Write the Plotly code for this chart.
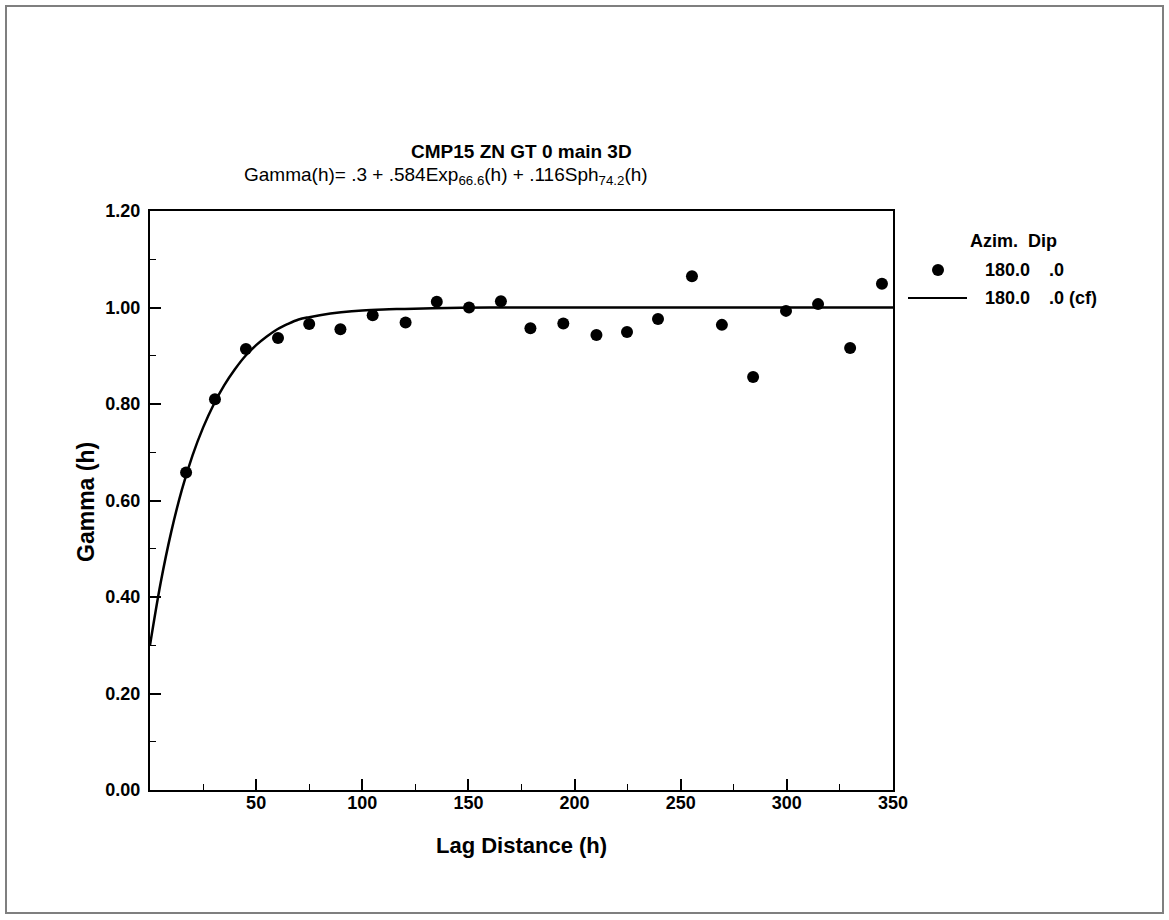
import plotly.graph_objects as go

lag = [17.0, 30.6, 45.2, 60.3, 75.0, 89.7, 104.9, 120.4, 135.1, 150.3, 165.3, 179.2,
       194.7, 210.3, 224.7, 239.3, 255.3, 269.4, 284.1, 299.6, 314.7, 329.8, 344.8]
gamma = [0.658, 0.810, 0.914, 0.937, 0.966, 0.955, 0.984, 0.969, 1.012, 1.000, 1.013, 0.957,
         0.967, 0.943, 0.949, 0.976, 1.065, 0.964, 0.856, 0.993, 1.007, 0.916, 1.049]

# Fitted model curve
h_fit = [0, 5, 10, 15, 20, 25, 30, 35, 40, 45, 50, 55, 60, 65, 70, 75, 80, 90, 100,
         110, 120, 140, 160, 200, 250, 350]
gamma_fit = [0.300, 0.429, 0.535, 0.622, 0.693, 0.751, 0.799, 0.839, 0.872, 0.900, 0.922,
             0.940, 0.955, 0.966, 0.975, 0.980, 0.984, 0.990, 0.994, 0.996, 0.997, 0.999,
             1.000, 1.000, 1.000, 1.000]

x_ticks = [50, 100, 150, 200, 250, 300, 350]
x_minor = [25, 75, 125, 175, 225, 275, 325]
y_ticks = [0.0, 0.2, 0.4, 0.6, 0.8, 1.0, 1.2]
y_minor = [0.1, 0.3, 0.5, 0.7, 0.9, 1.1]

FONT = "Arial, 'Liberation Sans', sans-serif"

fig = go.Figure()
fig.add_trace(go.Scatter(x=h_fit, y=gamma_fit, mode="lines",
                         line=dict(color="black", width=2.5, shape="spline"),
                         showlegend=False))
fig.add_trace(go.Scatter(x=lag, y=gamma, mode="markers", marker=dict(color="black", size=12),
                         showlegend=False))

def px_x(px):
    return (px - 150) / 743.0

def px_y(py):
    return (790 - py) / 579.0

anns = [
    dict(text="<b>CMP15 ZN GT 0 main 3D</b>", x=px_x(521), y=px_y(152), size=19),
    dict(text="Gamma(h)= .3 + .584Exp<sub>66.6</sub>(h) + .116Sph<sub>74.2</sub>(h)",
         x=px_x(446), y=px_y(176), size=19),
    dict(text="<b>Lag Distance (h)</b>", x=px_x(521), y=px_y(845), size=22),
    dict(text="<b>Gamma (h)</b>", x=px_x(86), y=px_y(502), size=23, angle=-90),
    dict(text="<b>Azim.  Dip</b>", x=px_x(968), y=px_y(241), size=18, anchor="left"),
    dict(text="<b>180.0</b>", x=px_x(983), y=px_y(270), size=18, anchor="left"),
    dict(text="<b>.0</b>", x=px_x(1047), y=px_y(270), size=18, anchor="left"),
    dict(text="<b>180.0</b>", x=px_x(983), y=px_y(298), size=18, anchor="left"),
    dict(text="<b>.0 (cf)</b>", x=px_x(1047), y=px_y(298), size=18, anchor="left"),
]
for a in anns:
    fig.add_annotation(text=a["text"], x=a["x"], y=a["y"], xref="paper", yref="paper",
                       showarrow=False, xanchor=a.get("anchor", "center"), yanchor="middle",
                       textangle=a.get("angle", 0),
                       font=dict(family=FONT, size=a["size"], color="black"))

# legend symbols
fig.add_shape(type="circle", xref="paper", yref="paper", xsizemode="pixel", ysizemode="pixel",
              xanchor=px_x(938), yanchor=px_y(270), x0=-6, x1=6, y0=-6, y1=6,
              fillcolor="black", line=dict(color="black", width=0))
fig.add_shape(type="line", xref="paper", yref="paper", x0=px_x(908), x1=px_x(967),
              y0=px_y(298), y1=px_y(298), line=dict(color="black", width=2))
# outer frame
fig.add_shape(type="rect", xref="paper", yref="paper", x0=px_x(6), x1=px_x(1163),
              y0=px_y(913), y1=px_y(6), line=dict(color="#7f7f7f", width=2))

axis_common = dict(showgrid=False, zeroline=False, showline=True, linecolor="black", linewidth=2,
                   mirror=True, ticks="inside", ticklen=11, tickwidth=1.5, tickcolor="black",
                   tickfont=dict(family=FONT, size=18, color="black"))
fig.update_xaxes(range=[0, 350], tickmode="array", tickvals=x_ticks,
                 ticktext=["<b>%d</b>" % v for v in x_ticks],
                 minor=dict(tickmode="array", tickvals=x_minor, ticks="inside", ticklen=6,
                            tickcolor="black", tickwidth=1),
                 ticklabelstandoff=-5,
                 **axis_common)
fig.update_yaxes(range=[0, 1.2], tickmode="array", tickvals=y_ticks,
                 ticktext=["<b>%.2f</b>" % v for v in y_ticks],
                 minor=dict(tickmode="array", tickvals=y_minor, ticks="inside", ticklen=6,
                            tickcolor="black", tickwidth=1),
                 ticklabelstandoff=4,
                 **axis_common)

fig.update_layout(width=1169, height=920, margin=dict(l=150, r=276, t=211, b=130),
                  plot_bgcolor="white", paper_bgcolor="white", showlegend=False,
                  font=dict(family=FONT, color="black"))

fig.write_html("out.html", config={"displayModeBar": False},
               post_script="document.body.style.margin='0';")
